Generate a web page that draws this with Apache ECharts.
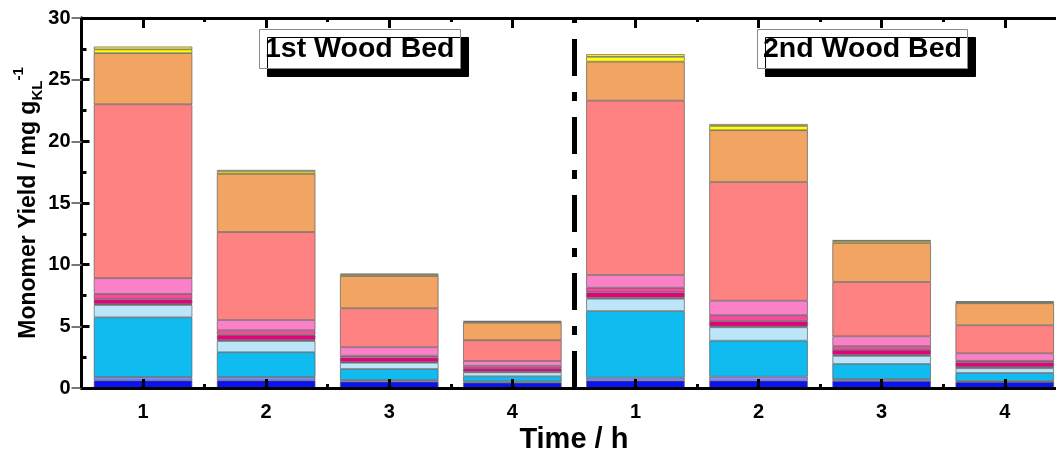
<!DOCTYPE html>
<html>
<head>
<meta charset="utf-8">
<script src="https://cdn.jsdelivr.net/npm/echarts@6/dist/echarts.min.js"></script>
<style>
html,body{margin:0;padding:0;background:#fff;overflow:hidden;}
#chart{width:1080px;height:458px;}
</style>
</head>
<body>
<div id="chart"></div>
<script>
// ---- data ----
const timeLabels = ['1','2','3','4','1','2','3','4'];
const bedLabels = ['1st Wood Bed', '2nd Wood Bed'];
const yTicks = [0, 5, 10, 15, 20, 25, 30];
const seriesNames = ['Monomer 1','Monomer 2','Monomer 3','Monomer 4','Monomer 5','Monomer 6',
                     'Monomer 7','Monomer 8','Monomer 9','Monomer 10','Monomer 11','Monomer 12'];
const s1  = [0.62, 0.62, 0.51, 0.43, 0.60, 0.60, 0.57, 0.49];
const s2  = [0.25, 0.25, 0.14, 0.10, 0.24, 0.32, 0.16, 0.08];
const s3  = [4.86, 2.03, 0.89, 0.42, 5.40, 2.92, 1.22, 0.65];
const s4  = [1.00, 0.91, 0.51, 0.32, 1.00, 1.08, 0.65, 0.38];
const s5  = [0.08, 0.07, 0.05, 0.05, 0.08, 0.08, 0.08, 0.10];
const s6  = [0.38, 0.42, 0.36, 0.28, 0.44, 0.43, 0.40, 0.38];
const s7  = [0.45, 0.38, 0.16, 0.20, 0.37, 0.47, 0.32, 0.13];
const s8  = [1.26, 0.83, 0.68, 0.39, 1.03, 1.18, 0.79, 0.60];
const s9  = [14.10, 7.14, 3.16, 1.68, 14.14, 9.62, 4.41, 2.27];
const s10 = [4.15, 4.71, 2.62, 1.43, 3.16, 4.20, 3.16, 1.79];
const s11 = [0.30, 0.19, 0.12, 0.08, 0.39, 0.35, 0.16, 0.10];
const s12 = [0.23, 0.13, 0.07, 0.05, 0.21, 0.15, 0.08, 0.06];
const allValues = [s1,s2,s3,s4,s5,s6,s7,s8,s9,s10,s11,s12];
const colors = ['#0a14f2','#8c8cff','#10bbef','#bde5fa','#5a8fa8','#e6007e',
                '#f44c9c','#fc80c8','#ff8282','#f2a462','#ffff00','#fff230'];
const dividerAt = [4];

// ---- chart ----
const FONT = '"Liberation Sans", Arial, sans-serif';
const chart = echarts.init(document.getElementById('chart'), null, {renderer:'canvas'});

const barSeries = allValues.map((vals, i) => ({
  name: seriesNames[i],
  type: 'bar',
  stack: 'total',
  xAxisIndex: 0,
  yAxisIndex: 0,
  barCategoryGap: '20%',
  data: vals,
  itemStyle: { color: colors[i], borderColor: '#5e5e5e', borderWidth: 0.7 },
  emphasis: { disabled: true }
}));

const boxTitle = (text, left) => ({
  text: text,
  left: left,
  top: 29,
  padding: [5, 6, 5, 6],
  backgroundColor: '#fff',
  borderColor: '#8a8a8a',
  borderWidth: 1,
  shadowColor: '#000',
  shadowBlur: 0,
  shadowOffsetX: 8,
  shadowOffsetY: 8,
  textStyle: { fontFamily: FONT, fontWeight: 'bold', fontSize: 28.5, color: '#000', lineHeight: 30 }
});

const option = {
  animation: false,
  backgroundColor: '#fff',
  title: [boxTitle(bedLabels[0], 259), boxTitle(bedLabels[1], 757)],
  grid: { left: 81.5, top: 18, width: 984.8, height: 370, containLabel: false, outerBoundsMode: 'none' },
  xAxis: [
    { type: 'category', data: timeLabels, position: 'bottom', z: 10,
      axisLine: { show: true, lineStyle: { color: '#000', width: 3 } },
      axisTick: { show: true, alignWithLabel: true, inside: true, length: 9, lineStyle: { color: '#000', width: 3 } },
      axisLabel: { show: true, margin: 14, fontFamily: FONT, fontWeight: 'bold', fontSize: 20, color: '#000' },
      name: 'Time / h', nameLocation: 'middle', nameGap: 37, nameMoveOverlap: false,
      nameTextStyle: { fontFamily: FONT, fontWeight: 'bold', fontSize: 29, color: '#000' },
      splitLine: { show: false } },
    { type: 'value', min: 0, max: 8, interval: 1, position: 'bottom', z: 10,
      axisLine: { show: false },
      axisTick: { show: true, inside: true, length: 4, lineStyle: { color: '#000', width: 3 } },
      axisLabel: { show: false }, splitLine: { show: false } },
    { type: 'category', data: timeLabels, position: 'top', z: 10,
      axisLine: { show: true, lineStyle: { color: '#000', width: 3 } },
      axisTick: { show: true, alignWithLabel: true, inside: true, length: 10, lineStyle: { color: '#000', width: 3 } },
      axisLabel: { show: false }, splitLine: { show: false } },
    { type: 'value', min: 0, max: 8, interval: 1, position: 'top', z: 10,
      axisLine: { show: false },
      axisTick: { show: true, inside: true, length: 4, lineStyle: { color: '#000', width: 3 } },
      axisLabel: { show: false }, splitLine: { show: false } }
  ],
  yAxis: [
    { type: 'value', min: yTicks[0], max: yTicks[yTicks.length-1], interval: 5, position: 'left', z: 10,
      axisLine: { show: true, lineStyle: { color: '#000', width: 3 } },
      axisTick: { show: true, inside: true, length: 8, lineStyle: { color: '#000', width: 3 } },
      minorTick: { show: true, splitNumber: 2, length: 5, lineStyle: { color: '#000', width: 3 } },
      axisLabel: { show: true, margin: 11, fontFamily: FONT, fontWeight: 'bold', fontSize: 20, color: '#000' },
      splitLine: { show: false },
      name: '{m|Monomer Yield / mg g}{sub|KL}{sup|-1}',
      nameLocation: 'middle', nameGap: 36, nameRotate: 90, nameMoveOverlap: false,
      nameTextStyle: {
        fontFamily: FONT, fontWeight: 'bold', fontSize: 23, color: '#000',
        rich: {
          m: { fontFamily: FONT, fontWeight: 'bold', fontSize: 23, color: '#000', lineHeight: 34, verticalAlign: 'middle' },
          sub: { fontFamily: FONT, fontWeight: 'bold', fontSize: 15, color: '#000', lineHeight: 34, verticalAlign: 'bottom' },
          sup: { fontFamily: FONT, fontWeight: 'bold', fontSize: 15, color: '#000', lineHeight: 34, verticalAlign: 'top' }
        }
      } },
    { type: 'value', min: yTicks[0], max: yTicks[yTicks.length-1], interval: 5, position: 'right', z: 10,
      axisLine: { show: true, lineStyle: { color: '#000', width: 3 } },
      axisTick: { show: true, inside: true, length: 10, lineStyle: { color: '#777', width: 2 } },
      axisLabel: { show: false }, splitLine: { show: false } }
  ],
  series: barSeries.concat([{
    type: 'line', xAxisIndex: 1, yAxisIndex: 0, data: [], silent: true,
    markLine: {
      silent: true, symbol: ['none', 'none'], label: { show: false },
      lineStyle: { color: '#000', width: 5, type: [37, 16, 9, 16] },
      data: dividerAt.map(v => ({ xAxis: v }))
    }
  }])
};
chart.setOption(option);
</script>
</body>
</html>
